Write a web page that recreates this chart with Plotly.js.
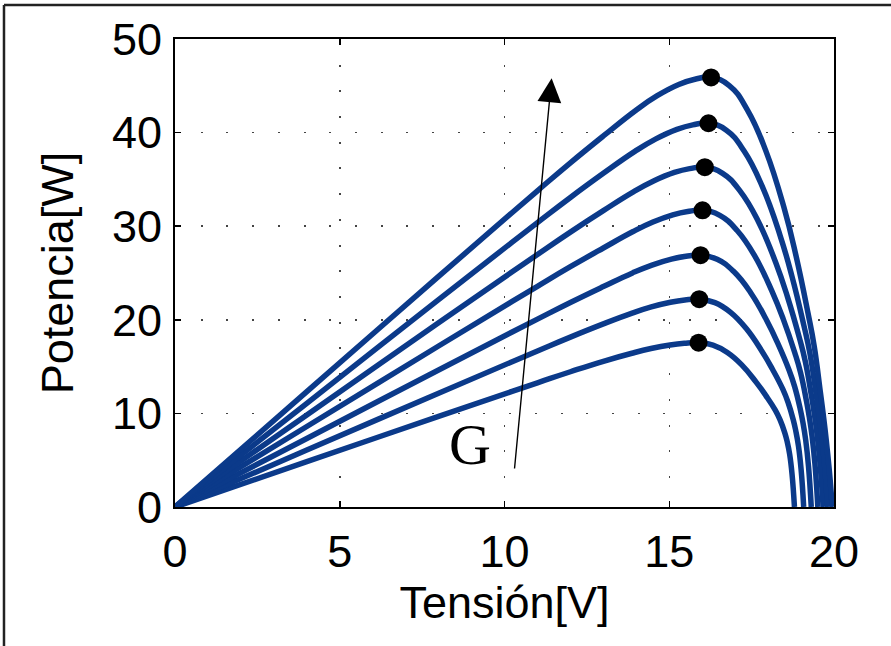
<!DOCTYPE html>
<html>
<head>
<meta charset="utf-8">
<script src="https://cdn.plot.ly/plotly-3.0.1.min.js"></script>
<style>
  html, body { margin: 0; padding: 0; background: #fff; }
  #chart { width: 891px; height: 646px; }
</style>
</head>
<body>
<div id="chart"></div>
<script>
// Voltage (V) and power (W) samples for each irradiance curve, lowest to highest
const v0 = [0, 4, 8, 11, 12, 13, 13.867, 14.445, 15.023, 15.457, 15.89, 16.327, 16.763, 17.2, 17.636, 17.927, 18.218, 18.364, 18.509, 18.582, 18.655, 18.727, 18.8];
const p0 = [0, 4.84, 9.68, 13.27, 14.45, 15.57, 16.43, 16.93, 17.31, 17.49, 17.55, 17.29, 16.50, 15.18, 13.34, 11.93, 10.35, 9.30, 7.90, 6.93, 5.62, 3.51, 0];
const v1 = [0, 4, 8, 11, 12, 13, 13.873, 14.455, 15.037, 15.474, 15.91, 16.386, 16.861, 17.337, 17.812, 18.129, 18.446, 18.605, 18.763, 18.842, 18.922, 19.001, 19.08];
const p1 = [0, 6.08, 12.16, 16.67, 18.15, 19.56, 20.71, 21.38, 21.88, 22.12, 22.2, 21.84, 20.80, 19.07, 16.65, 14.74, 12.59, 11.19, 9.32, 8.10, 6.50, 4.02, 0];
const v2 = [0, 4, 8, 11, 12, 13, 13.885, 14.475, 15.065, 15.508, 15.95, 16.454, 16.958, 17.462, 17.966, 18.302, 18.638, 18.806, 18.974, 19.058, 19.142, 19.226, 19.31];
const p2 = [0, 7.32, 14.64, 20.07, 21.85, 23.55, 25.01, 25.85, 26.49, 26.79, 26.9, 26.47, 25.15, 22.95, 19.88, 17.43, 14.61, 12.86, 10.49, 9.01, 7.13, 4.36, 0];
const v3 = [0, 4, 8, 11, 12, 13, 13.903, 14.505, 15.107, 15.559, 16.01, 16.535, 17.06, 17.585, 18.11, 18.46, 18.81, 18.985, 19.16, 19.248, 19.335, 19.423, 19.51];
const p3 = [0, 8.6, 17.2, 23.58, 25.67, 27.67, 29.43, 30.44, 31.21, 31.57, 31.7, 31.16, 29.54, 26.88, 23.11, 20.07, 16.48, 14.36, 11.41, 9.67, 7.54, 4.53, 0];
const v4 = [0, 4, 8, 11, 12, 13, 13.924, 14.54, 15.156, 15.618, 16.08, 16.619, 17.157, 17.696, 18.234, 18.593, 18.952, 19.132, 19.311, 19.401, 19.491, 19.58, 19.67];
const p4 = [0, 9.84, 19.68, 26.98, 29.37, 31.66, 33.69, 34.85, 35.74, 36.15, 36.3, 35.65, 33.72, 30.56, 26.10, 22.40, 18.04, 15.50, 11.98, 9.98, 7.62, 4.46, 0];
const v5 = [0, 4, 8, 11, 12, 13, 13.957, 14.595, 15.233, 15.712, 16.19, 16.733, 17.276, 17.819, 18.362, 18.724, 19.086, 19.267, 19.448, 19.539, 19.629, 19.72, 19.81];
const p5 = [0, 11.08, 22.16, 30.38, 33.07, 35.65, 37.99, 39.33, 40.35, 40.83, 41.0, 40.26, 38.01, 34.28, 29.03, 24.64, 19.39, 16.44, 12.30, 10.05, 7.50, 4.26, 0];
const v6 = [0, 4, 8, 11, 12, 13, 13.981, 14.635, 15.289, 15.78, 16.27, 16.822, 17.374, 17.926, 18.478, 18.846, 19.214, 19.398, 19.582, 19.674, 19.766, 19.858, 19.95];
const p6 = [0, 12.32, 24.64, 33.78, 36.77, 39.64, 42.37, 43.94, 45.14, 45.70, 45.9, 45.03, 42.41, 38.10, 32.04, 26.85, 20.66, 17.21, 12.39, 9.87, 7.11, 3.90, 0];

// Maximum power points
const mppV = [15.89, 15.91, 15.95, 16.01, 16.08, 16.19, 16.27];
const mppP = [17.55, 22.2, 26.9, 31.7, 36.3, 41.0, 45.9];

// Axis ticks and labels
const xTicks = [0, 5, 10, 15, 20];
const yTicks = [0, 10, 20, 30, 40, 50];
const xLabel = 'Tensión[V]';
const yLabel = 'Potencia[W]';
const arrowLabel = 'G';
// Arrow (in data units): tail and head
const arrowTail = [10.30, 3.95];
const arrowHead = [11.43, 45.8];
const labelPos = [8.95, 6.7];

const curveV = [v0, v1, v2, v3, v4, v5, v6];
const curveP = [p0, p1, p2, p3, p4, p5, p6];
const blue = '#0b3a8a';

const traces = curveV.map((vx, i) => ({
  type: 'scatter', mode: 'lines', x: vx, y: curveP[i],
  line: { color: blue, width: 5.5, shape: 'spline', smoothing: 1.3 },
  hoverinfo: 'skip', showlegend: false, cliponaxis: true
}));
traces.push({
  type: 'scatter', mode: 'markers', x: mppV, y: mppP,
  marker: { color: '#000', size: 18 },
  hoverinfo: 'skip', showlegend: false, cliponaxis: false
});

const tickFont = { family: 'Liberation Sans, Arial, sans-serif', size: 45, color: '#000' };
const titleFont = { family: 'Liberation Sans, Arial, sans-serif', size: 45, color: '#000' };
const axisCommon = {
  showline: true, linecolor: '#000', linewidth: 2, mirror: 'ticks',
  ticks: 'inside', ticklen: 6, tickwidth: 1.5, tickcolor: '#000',
  showgrid: true, gridcolor: '#444', gridwidth: 1.5, griddash: '2px,23.7px',
  zeroline: false, tickfont: tickFont, fixedrange: true
};

const layout = {
  width: 891, height: 646,
  margin: { l: 175, r: 57, t: 39, b: 139 },
  paper_bgcolor: '#fff', plot_bgcolor: '#fff',
  showlegend: false,
  xaxis: Object.assign({}, axisCommon, {
    range: [0, 20], tickvals: xTicks, ticktext: xTicks.map(String),
    ticklabelstandoff: 4,
    title: { text: xLabel, font: titleFont, standoff: 6 }
  }),
  yaxis: Object.assign({}, axisCommon, {
    range: [0, 50], tickvals: yTicks, ticktext: yTicks.map(String),
    ticklabelstandoff: 2,
    title: { text: yLabel, font: titleFont, standoff: 24 }
  }),
  annotations: [
    {
      x: arrowHead[0], y: arrowHead[1], ax: arrowTail[0], ay: arrowTail[1],
      xref: 'x', yref: 'y', axref: 'x', ayref: 'y',
      text: '', showarrow: true, arrowhead: 2, arrowsize: 3.4, arrowwidth: 1.4,
      arrowcolor: '#000', standoff: 0
    },
    {
      x: labelPos[0], y: labelPos[1], xref: 'x', yref: 'y',
      text: arrowLabel, showarrow: false,
      font: { family: 'Liberation Serif, Times New Roman, serif', size: 58, color: '#000' }
    }
  ],
  shapes: [
    { type: 'line', xref: 'paper', yref: 'paper', x0: -0.2595, x1: 1.09, y0: 1.0726, y1: 1.0726,
      line: { color: '#222', width: 2.5 } },
    { type: 'line', xref: 'paper', yref: 'paper', x0: -0.2595, x1: -0.2595, y0: 1.0726, y1: -0.31,
      line: { color: '#222', width: 2.5 } }
  ]
};

Plotly.newPlot('chart', traces, layout, { staticPlot: true, displayModeBar: false });
</script>
</body>
</html>
